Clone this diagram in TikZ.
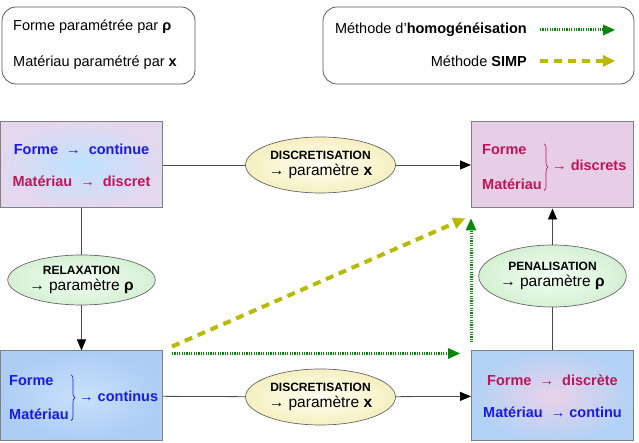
\documentclass[tikz,border=0pt]{standalone}
\usepackage{fontspec}
\setmainfont{Liberation Sans}
\usepackage{xcolor}
\usepackage{tikz}
\usetikzlibrary{shapes,arrows.meta,positioning,calc,decorations.pathreplacing}

\definecolor{formblue}{RGB}{25,25,230}
\definecolor{matred}{RGB}{190,20,90}
\definecolor{homgreen}{RGB}{10,135,10}
\definecolor{simpolive}{RGB}{185,185,0}
\definecolor{tlin}{RGB}{190,226,255}
\definecolor{tlout}{RGB}{227,216,238}
\definecolor{trfill}{RGB}{230,206,230}
\definecolor{blin}{RGB}{200,224,251}
\definecolor{blout}{RGB}{173,205,245}
\definecolor{brin}{RGB}{234,210,234}
\definecolor{brout}{RGB}{178,210,245}
\definecolor{yelin}{RGB}{255,255,245}
\definecolor{yelout}{RGB}{245,240,192}
\definecolor{grnin}{RGB}{242,255,242}
\definecolor{grnout}{RGB}{213,240,213}

\begin{document}
\begin{tikzpicture}[
    x=1pt, y=1pt,
    legend/.style={rectangle, rounded corners=14pt, draw=black!65, line width=0.8pt, minimum width=193pt, minimum height=77pt},
    legtext/.style={font=\fontsize{14.5}{16}\selectfont, inner sep=1pt},
    box/.style={rectangle, draw=black!50, line width=1pt, minimum width=162pt, minimum height=86pt, align=center, font=\fontsize{14.5}{32}\selectfont\bfseries},
    txt/.style={font=\fontsize{14.5}{17}\selectfont\bfseries, inner sep=1pt},
    oval/.style={ellipse, draw=black!60, line width=0.7pt, align=center, inner sep=0pt, font=\fontsize{15.5}{16}\selectfont},
    yellowoval/.style={oval, inner color=yelin, outer color=yelout, minimum width=150pt, minimum height=56pt},
    greenoval/.style={oval, inner color=grnin, outer color=grnout},
    link/.style={draw=black!70, line width=0.8pt},
    arrow/.style={link, -{Triangle[length=11pt, width=9pt, color=black]}},
    brace/.style={decorate, decoration={brace, amplitude=4pt}, line width=0.6pt},
    homog/.style={draw=homgreen, line width=3pt, dash pattern=on 1.2pt off 1.2pt, -{Triangle[length=12pt, width=11pt, line width=0pt]}},
    simp/.style={draw=simpolive, line width=4pt, dash pattern=on 8pt off 6pt, -{Triangle[length=12pt, width=12pt, line width=0pt]}}
]
    \useasboundingbox (0,0) rectangle (639,443);

    \node[legend] (leg1) at (98.5,397.5) {};
    \node[legend, minimum width=311pt] (leg2) at (478.5,397.5) {};
    \node[legtext, anchor=west] (lforme) at (12,416) {Forme paramétrée par \textbf{ρ}};
    \node[legtext, anchor=west] (lmat) at (12,380) {Matériau paramétré par \textbf{x}};
    \node[legtext, anchor=east] (lhomog) at (528,413) {Méthode d'\textbf{homogénéisation}};
    \node[legtext, anchor=east] (lsimp) at (528,382) {Méthode \textbf{SIMP}};
    \coordinate (lhA) at ([xshift=12pt]lhomog.east);
    \coordinate (lhB) at ([xshift=87pt]lhomog.east);
    \coordinate (lsA) at ([xshift=12pt]lsimp.east);
    \coordinate (lsB) at ([xshift=87pt]lsimp.east);
    \draw[homog] (lhA) -- (lhB);
    \draw[simp] (lsA) -- (lsB);

    \node[box, inner color=tlin, outer color=tlout] (tl) at (81.5,278)
        {\textcolor{formblue}{Forme\ \ →\ \ continue}\\\textcolor{matred}{Matériau\ \ →\ \ discret}};
    \node[box, fill=trfill] (tr) at (552.5,278) {};
    \node[box, minimum height=90pt, inner color=blin, outer color=blout] (bl) at (81.5,47) {};
    \node[box, minimum height=90pt, inner color=brin, outer color=brout] (br) at (552.5,47)
        {\textcolor{matred}{Forme\ \ →\ \ discrète}\\\textcolor{formblue}{Matériau\ \ → continu}};

    \node[txt, text=matred, anchor=west] (trforme) at ([xshift=10pt,yshift=15pt]tr.west) {Forme};
    \node[txt, text=matred, anchor=west] (trmat) at ([xshift=10pt,yshift=-19pt]tr.west) {Matériau};
    \draw[brace, matred] ([xshift=1pt]trmat.east |- trforme.north) -- ([xshift=1pt]trmat.south east);
    \node[txt, text=matred, anchor=west] (trres) at ([xshift=8pt]trmat.east |- tr.west) {→ discrets};

    \node[txt, text=formblue, anchor=west] (blforme) at ([xshift=8pt,yshift=15pt]bl.west) {Forme};
    \node[txt, text=formblue, anchor=west] (blmat) at ([xshift=8pt,yshift=-18pt]bl.west) {Matériau};
    \draw[brace, formblue] ([xshift=1pt]blmat.east |- blforme.north) -- ([xshift=1pt]blmat.south east);
    \node[txt, text=formblue, anchor=west] (blres) at ([xshift=8pt]blmat.east |- bl.west) {→ continus};

    \node[yellowoval] (d1) at (320.5,278)
        {{\fontsize{12}{12}\selectfont\bfseries DISCRETISATION}\\→ paramètre \textbf{x}};
    \node[yellowoval] (d2) at (320.5,46)
        {{\fontsize{12}{12}\selectfont\bfseries DISCRETISATION}\\→ paramètre \textbf{x}};
    \node[greenoval, minimum width=140pt, minimum height=50pt] (relax) at (81.5,163)
        {{\fontsize{12}{12}\selectfont\bfseries RELAXATION}\\→ paramètre \textbf{ρ}};
    \node[greenoval, minimum width=141pt, minimum height=62pt] (penal) at (552.5,167)
        {{\fontsize{12}{12}\selectfont\bfseries PENALISATION}\\→ paramètre \textbf{ρ}};

    \draw[link] (tl) -- (d1);
    \draw[arrow] (d1) -- (tr);
    \draw[link] (tl) -- (relax);
    \draw[arrow] (relax) -- (bl);
    \draw[link] (bl) -- (d2);
    \draw[arrow] (d2) -- (br);
    \draw[link] (br) -- (penal);
    \draw[arrow] (penal) -- (tr);

    \coordinate (hA) at ([xshift=9pt,yshift=-3pt]bl.north east);
    \coordinate (hB) at ([xshift=-11pt,yshift=-3pt]br.north west);
    \coordinate (hC) at ([yshift=8pt]br.north west);
    \coordinate (hD) at ([yshift=-10pt]tr.south west);
    \coordinate (sA) at ([xshift=9pt,yshift=4pt]bl.north east);
    \coordinate (sB) at ([xshift=-6pt,yshift=-10pt]tr.south west);
    \draw[simp] (sA) -- (sB);
    \draw[homog] (hA) -- (hB);
    \draw[homog] (hC) -- (hD);
\end{tikzpicture}
\end{document}
